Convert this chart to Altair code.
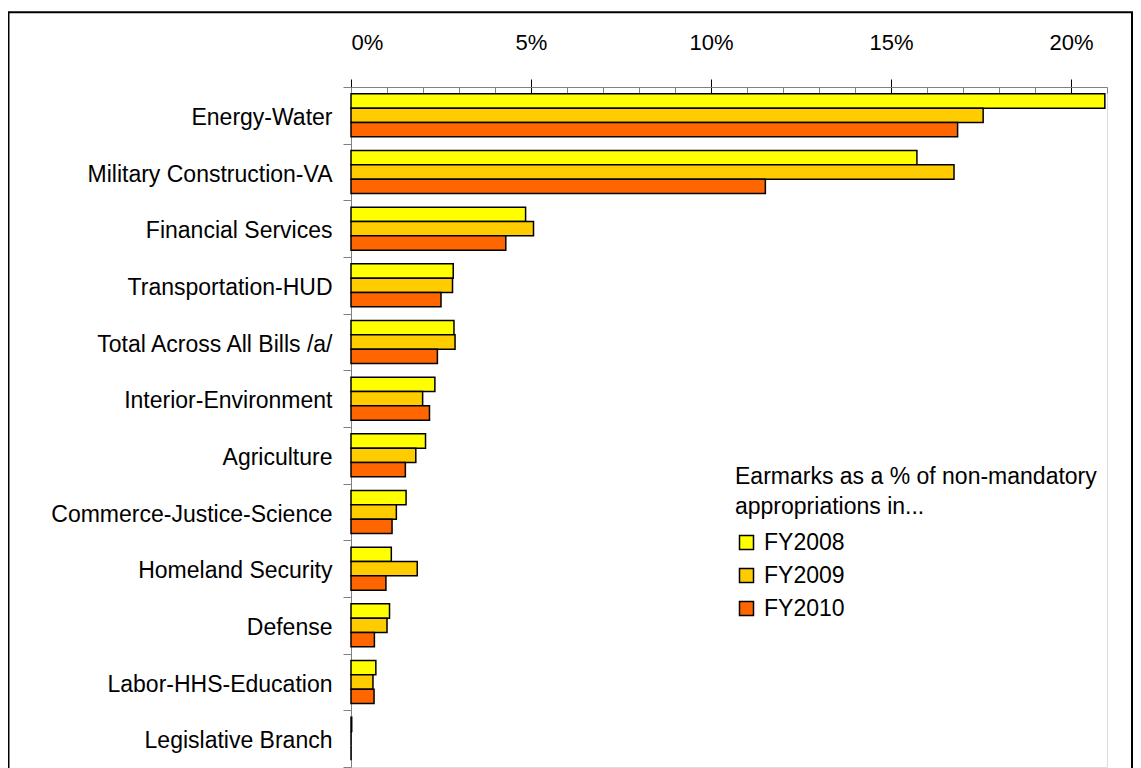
import altair as alt
import pandas as pd

categories = [
    "Energy-Water", "Military Construction-VA", "Financial Services",
    "Transportation-HUD", "Total Across All Bills /a/", "Interior-Environment",
    "Agriculture", "Commerce-Justice-Science", "Homeland Security",
    "Defense", "Labor-HHS-Education", "Legislative Branch",
]
years = ["FY2008", "FY2009", "FY2010"]
fy2008 = [20.94, 15.72, 4.85, 2.84, 2.86, 2.33, 2.07, 1.53, 1.12, 1.07, 0.69, 0.02]
fy2009 = [17.56, 16.75, 5.07, 2.82, 2.89, 1.99, 1.80, 1.26, 1.84, 1.00, 0.61, 0.0]
fy2010 = [16.85, 11.51, 4.30, 2.50, 2.40, 2.18, 1.51, 1.14, 0.97, 0.65, 0.64, 0.0]
colors = ["#FFFF00", "#FFCC00", "#FF6600"]
major_ticks = [0, 5, 10, 15, 20]
minor_ticks = [1, 2, 3, 4, 6, 7, 8, 9, 11, 12, 13, 14, 16, 17, 18, 19, 21]

rows = []
for yr, vals in zip(years, [fy2008, fy2009, fy2010]):
    for c, v in zip(categories, vals):
        rows.append({"category": c, "year": yr, "value": v})
df = pd.DataFrame(rows)

FONT = "Liberation Sans"
xscale = alt.Scale(domain=[0, 21], nice=False, zero=True)

bars = alt.Chart(df).mark_bar(stroke="black", strokeWidth=1.5).encode(
    x=alt.X("value:Q", scale=xscale,
            axis=alt.Axis(orient="top", values=major_ticks, offset=-6, tickSize=14,
                          tickColor="black", tickWidth=1, domain=False, grid=False,
                          labelExpr="datum.value + '%'", labelFontSize=22,
                          labelColor="black", labelPadding=25, title=None)),
    y=alt.Y("category:N", sort=categories,
            scale=alt.Scale(paddingInner=0, paddingOuter=0),
            axis=alt.Axis(tickBand="extent", labelFontSize=23, labelColor="black",
                          labelPadding=11, labelOffset=2, tickSize=8,
                          tickColor="#808080", domainColor="#808080", title=None,
                          labelLimit=400)),
    yOffset=alt.YOffset("year:N", sort=years,
                        scale=alt.Scale(domain=years, paddingOuter=0.48, paddingInner=0)),
    color=alt.Color("year:N", sort=years,
                    scale=alt.Scale(domain=years, range=colors),
                    legend=alt.Legend(
                        title=["Earmarks as a % of non-mandatory", "appropriations in..."],
                        orient="none", legendX=384, legendY=379,
                        titleFontSize=23, titleFontWeight="normal", titleLineHeight=30,
                        titleColor="black", titleLimit=600, titleFont=FONT,
                        labelFontSize=23, labelColor="black", labelFont=FONT,
                        symbolType="square", symbolSize=196, symbolStrokeColor="black",
                        symbolStrokeWidth=1.5, symbolOpacity=1,
                        rowPadding=9, titlePadding=12, labelOffset=6, padding=0)),
)

minor = alt.Chart(df).mark_point(opacity=0).encode(
    x=alt.X("value:Q", scale=xscale,
            axis=alt.Axis(orient="top", values=minor_ticks, offset=-6, tickSize=6,
                          tickColor="#808080", domain=False, labels=False, grid=False,
                          title=None)),
)

domain_line = alt.Chart(df).mark_point(opacity=0).encode(
    x=alt.X("value:Q", scale=xscale,
            axis=alt.Axis(orient="top", ticks=False, labels=False, domain=True,
                          domainColor="#808080", grid=False, title=None)),
)

frame = alt.Chart(pd.DataFrame({"f": [0]})).mark_rect(
    fillOpacity=0, stroke="black", strokeWidth=2
).encode(
    x=alt.value(-342.5), x2=alt.value(781), y=alt.value(-74.7), y2=alt.value(720)
)

chart = alt.layer(frame, bars, minor, domain_line).resolve_axis(
    x="independent"
).properties(
    width=756, height=680,
    autosize=alt.AutoSizeParams(type="none"),
    padding={"left": 343, "top": 79, "right": 26, "bottom": 1},
).configure_view(stroke=None).configure(font=FONT)

chart.save("out.html", embed_options={"renderer": "svg", "actions": False})
